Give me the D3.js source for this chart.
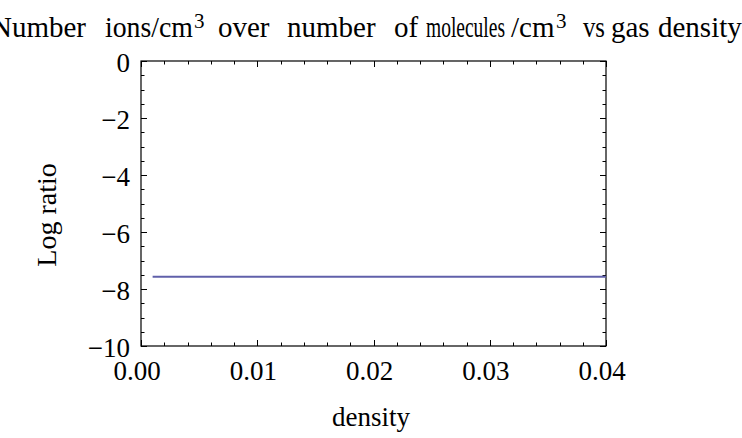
<!DOCTYPE html>
<html><head><meta charset="utf-8">
<script src="https://cdn.jsdelivr.net/npm/d3@7"></script>
<style>
html,body{margin:0;padding:0;background:#fff;overflow:hidden}
text{font-family:"Liberation Serif","Times New Roman",serif;fill:#000}
</style></head>
<body>
<script>
// data
const densityValues = [0.001, 0.01, 0.02, 0.03, 0.04];
const logRatioValues = [-7.57, -7.57, -7.57, -7.57, -7.57];
const xTickValues = [0, 0.01, 0.02, 0.03, 0.04];
const xTickLabels = ["0.00", "0.01", "0.02", "0.03", "0.04"];
const yTickValues = [0, -2, -4, -6, -8, -10];
const yTickLabels = ["0", "\u22122", "\u22124", "\u22126", "\u22128", "\u221210"];
const titleWords = ["Number", "ions/cm", "3", "over", "number", "of", "molecules", "/cm", "3", "vs", "gas", "density"];
const xAxisTitle = "density";
const yAxisTitle = "Log ratio";

const W = 742, H = 438;
const L = 141, R = 606, T = 61, B = 346;
const svg = d3.select("body").append("svg").attr("width", W).attr("height", H);

const x = d3.scaleLinear().domain([0, 0.04]).range([L, R]);
const y = d3.scaleLinear().domain([-10, 0]).range([B, T]);

// title: word start positions taken from the original layout
const titleStarts = [-9, 105, 194, 218, 287, 394, 426, 511, 556, 583, 611, 658, 748];
const tg = svg.append("g");
titleWords.forEach((wd, i) => {
  const sup = wd === "3";
  const nextSup = titleWords[i + 1] === "3";
  const t = tg.append("text")
    .attr("x", titleStarts[i]).attr("y", sup ? 28 : 37)
    .attr("font-size", sup ? 21 : 29)
    .text(wd);
  const avail = titleStarts[i + 1] - titleStarts[i] - (nextSup ? 1 : (sup ? 3 : 6));
  const natural = t.node().getComputedTextLength();
  if (natural > avail) t.attr("textLength", avail).attr("lengthAdjust", "spacingAndGlyphs");
});

// frame
svg.append("rect").attr("x", L).attr("y", T).attr("width", R - L).attr("height", B - T)
  .attr("fill", "none").attr("stroke", "#000").attr("stroke-width", 1.2);

// ticks
const xMinor = d3.range(0, 0.0401, 0.002);
const yMinor = d3.range(-10, 0.01, 0.5);
const tickG = svg.append("g").attr("stroke", "#000").attr("stroke-width", 1);
xMinor.forEach((v, i) => {
  const len = (i % 5 === 0) ? 6 : 3.5;
  const px = Math.round(x(v)) + 0.5;
  tickG.append("line").attr("x1", px).attr("x2", px).attr("y1", B).attr("y2", B - len);
  tickG.append("line").attr("x1", px).attr("x2", px).attr("y1", T).attr("y2", T + len);
});
yMinor.forEach((v, i) => {
  const len = (i % 4 === 0) ? 6 : 3.5;
  const py = Math.round(y(v)) + 0.5;
  tickG.append("line").attr("x1", L).attr("x2", L + len).attr("y1", py).attr("y2", py);
  tickG.append("line").attr("x1", R).attr("x2", R - len).attr("y1", py).attr("y2", py);
});

// tick labels
svg.append("g").selectAll("text").data(xTickValues).join("text")
  .attr("x", d => x(d) - 4).attr("y", 380)
  .attr("text-anchor", "middle").attr("font-size", 27)
  .text((d, i) => xTickLabels[i]);
svg.append("g").selectAll("text").data(yTickValues).join("text")
  .attr("x", 130).attr("y", d => y(d) + 11)
  .attr("text-anchor", "end").attr("font-size", 27)
  .text((d, i) => yTickLabels[i]);

// axis titles
svg.append("text").attr("x", 371).attr("y", 426).attr("text-anchor", "middle")
  .attr("font-size", 27).text(xAxisTitle);
svg.append("text").attr("transform", "translate(56,215) rotate(-90)")
  .attr("text-anchor", "middle").attr("font-size", 28).text(yAxisTitle);

// line
const data = densityValues.map((d, i) => ({x: d, y: logRatioValues[i]}));
svg.append("path").datum(data)
  .attr("fill", "none").attr("stroke", "#6060aa").attr("stroke-width", 1.8)
  .attr("d", d3.line().x(d => x(d.x)).y(d => y(d.y)));
</script>
</body></html>
